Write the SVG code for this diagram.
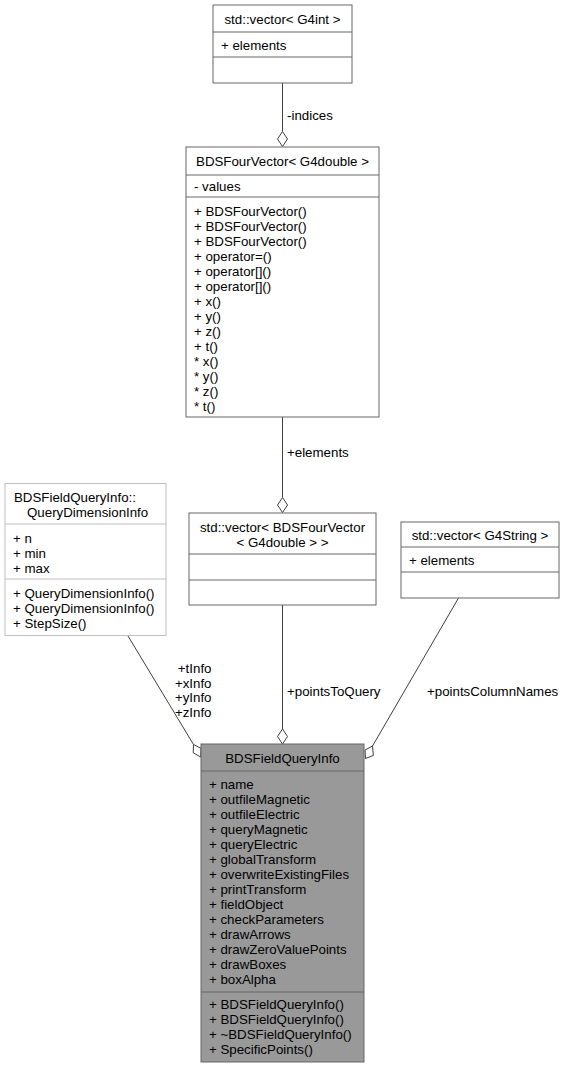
<svg xmlns="http://www.w3.org/2000/svg" width="565" height="1068" viewBox="0 0 565 1068">
<style>
text{font-family:"Liberation Sans",Arial,Helvetica,sans-serif;font-size:13.3px;fill:#000}
.c{text-anchor:middle}
.e{text-anchor:end}
.box{fill:#fff;stroke:#666;stroke-width:1}
.lbox{fill:#fff;stroke:#bfbfbf;stroke-width:1}
.sel{fill:#999;stroke:#666;stroke-width:1}
.sep{stroke:#666;stroke-width:1}
.lsep{stroke:#bfbfbf;stroke-width:1}
.edge{stroke:#404040;stroke-width:1;fill:none}
.dia{fill:#fff;stroke:#404040;stroke-width:1}
</style>
<rect width="565" height="1068" fill="#fff"/>
<g id="connectors">
<line class="edge" x1="282.5" y1="83" x2="282.5" y2="131.5"/>
<polygon class="dia" points="282.5,131.5 287.5,139 282.5,146.5 277.5,139"/>
<text x="287" y="120">-indices</text>
<line class="edge" x1="282.5" y1="417" x2="282.5" y2="497.5"/>
<polygon class="dia" points="282.5,497.5 287.5,505 282.5,512.5 277.5,505"/>
<text x="287" y="457">+elements</text>
<line class="edge" x1="282.5" y1="605" x2="282.5" y2="729"/>
<polygon class="dia" points="282.5,729 287.5,736.5 282.5,744 277.5,736.5"/>
<text x="287" y="696">+pointsToQuery</text>
<line class="edge" x1="128" y1="636" x2="193.5" y2="744.5"/>
<polygon class="dia" points="193.5,744.5 201,748.3 200.7,757 193.2,752.8"/>
<text class="e" x="211.5" y="673">+tInfo</text>
<text class="e" x="211.5" y="687.5">+xInfo</text>
<text class="e" x="211.5" y="702">+yInfo</text>
<text class="e" x="211.5" y="716.5">+zInfo</text>
<line class="edge" x1="458.5" y1="598" x2="372.5" y2="746"/>
<polygon class="dia" points="372.5,746 373.3,755.5 365.5,758.5 365,750"/>
<text x="427" y="696">+pointsColumnNames</text>
</g>
<g id="node_vector_G4int">
<rect class="box" x="213" y="5" width="139" height="78"/>
<line class="sep" x1="213" y1="32" x2="352" y2="32"/>
<line class="sep" x1="213" y1="57" x2="352" y2="57"/>
<text class="c" x="282.5" y="24">std::vector&lt; G4int &gt;</text>
<text x="221" y="50">+ elements</text>
</g>
<g id="node_BDSFourVector">
<rect class="box" x="186" y="147" width="193" height="270"/>
<line class="sep" x1="186" y1="175" x2="379" y2="175"/>
<line class="sep" x1="186" y1="197" x2="379" y2="197"/>
<text class="c" x="282.5" y="166">BDSFourVector&lt; G4double &gt;</text>
<text x="194" y="191">- values</text>
<text x="194" y="216">+ BDSFourVector()</text>
<text x="194" y="231">+ BDSFourVector()</text>
<text x="194" y="246">+ BDSFourVector()</text>
<text x="194" y="261">+ operator=()</text>
<text x="194" y="276">+ operator[]()</text>
<text x="194" y="291">+ operator[]()</text>
<text x="194" y="306">+ x()</text>
<text x="194" y="321">+ y()</text>
<text x="194" y="336">+ z()</text>
<text x="194" y="351">+ t()</text>
<text x="194" y="366">* x()</text>
<text x="194" y="381">* y()</text>
<text x="194" y="396">* z()</text>
<text x="194" y="411">* t()</text>
</g>
<g id="node_QueryDimensionInfo">
<rect class="lbox" x="5" y="483.5" width="161" height="152"/>
<line class="lsep" x1="5" y1="524" x2="166" y2="524"/>
<line class="lsep" x1="5" y1="579" x2="166" y2="579"/>
<text x="14" y="502">BDSFieldQueryInfo::</text>
<text x="27" y="517">QueryDimensionInfo</text>
<text x="13" y="543">+ n</text>
<text x="13" y="558">+ min</text>
<text x="13" y="573">+ max</text>
<text x="13" y="598">+ QueryDimensionInfo()</text>
<text x="13" y="613">+ QueryDimensionInfo()</text>
<text x="13" y="628">+ StepSize()</text>
</g>
<g id="node_vector_BDSFourVector">
<rect class="box" x="189" y="513" width="187" height="92"/>
<line class="sep" x1="189" y1="554" x2="376" y2="554"/>
<line class="sep" x1="189" y1="580" x2="376" y2="580"/>
<text class="c" x="282.5" y="532">std::vector&lt; BDSFourVector</text>
<text class="c" x="282.5" y="547">&lt; G4double &gt; &gt;</text>
</g>
<g id="node_vector_G4String">
<rect class="box" x="401" y="522" width="158" height="76"/>
<line class="sep" x1="401" y1="547" x2="559" y2="547"/>
<line class="sep" x1="401" y1="572" x2="559" y2="572"/>
<text class="c" x="480" y="540">std::vector&lt; G4String &gt;</text>
<text x="409" y="565">+ elements</text>
</g>
<g id="node_BDSFieldQueryInfo">
<rect class="sel" x="201" y="744" width="163" height="318"/>
<line class="sep" x1="201" y1="771" x2="364" y2="771"/>
<line class="sep" x1="201" y1="992" x2="364" y2="992"/>
<text class="c" x="282.5" y="763">BDSFieldQueryInfo</text>
<text x="209" y="789">+ name</text>
<text x="209" y="804">+ outfileMagnetic</text>
<text x="209" y="819">+ outfileElectric</text>
<text x="209" y="834">+ queryMagnetic</text>
<text x="209" y="849">+ queryElectric</text>
<text x="209" y="864">+ globalTransform</text>
<text x="209" y="879">+ overwriteExistingFiles</text>
<text x="209" y="894">+ printTransform</text>
<text x="209" y="909">+ fieldObject</text>
<text x="209" y="924">+ checkParameters</text>
<text x="209" y="939">+ drawArrows</text>
<text x="209" y="954">+ drawZeroValuePoints</text>
<text x="209" y="969">+ drawBoxes</text>
<text x="209" y="984">+ boxAlpha</text>
<text x="209" y="1009">+ BDSFieldQueryInfo()</text>
<text x="209" y="1024">+ BDSFieldQueryInfo()</text>
<text x="209" y="1039">+ ~BDSFieldQueryInfo()</text>
<text x="209" y="1054">+ SpecificPoints()</text>
</g>
</svg>
